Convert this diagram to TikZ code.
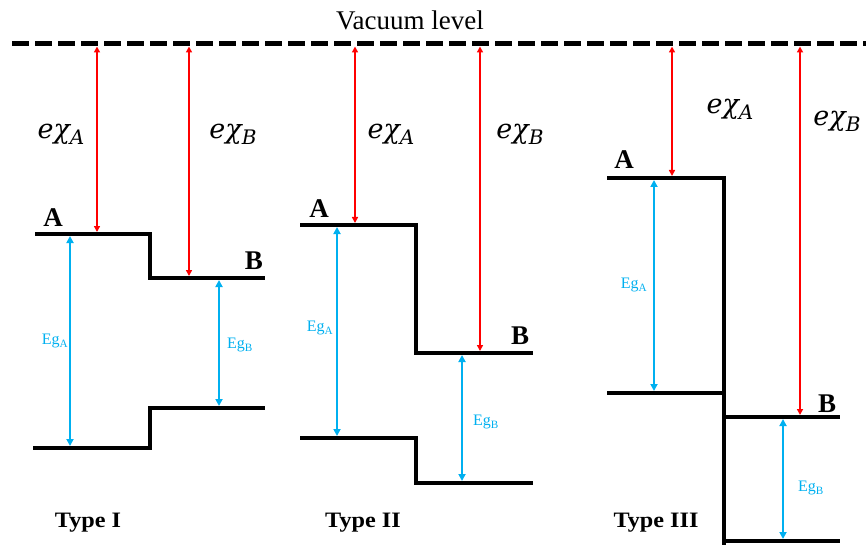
\documentclass[tikz,border=0pt]{standalone}
\usepackage{fontspec}
\setmainfont{Liberation Serif}
\newfontfamily\chifont{DejaVu Serif}
\usetikzlibrary{arrows.meta}
\definecolor{egblue}{HTML}{00B0F0}
\newcommand{\echi}[1]{{\chifont\itshape e\char"03C7\raisebox{-0.22em}{\fontsize{20}{22}\selectfont #1}}}
\begin{document}
\begin{tikzpicture}[x=1pt,y=-1pt,
 band/.style={line width=3.5pt, line cap=butt, line join=miter},
 vac/.style={line width=5pt, dash pattern=on 17pt off 6pt},
 chi/.style={draw=red, line width=1.8pt, {Triangle[length=6pt,width=6pt]}-{Triangle[length=6pt,width=6pt]}},
 gap/.style={draw=egblue, line width=2.2pt, {Triangle[length=7pt,width=7pt]}-{Triangle[length=7pt,width=7pt]}},
 lbl/.style={font=\fontsize{27}{30}\selectfont\bfseries, inner sep=0pt},
 egl/.style={text=egblue, font=\fontsize{16}{18}\selectfont, inner sep=0pt},
 chil/.style={font=\fontsize{27}{30}\selectfont, inner sep=0pt},
 typel/.style={font=\fontsize{22}{24}\selectfont\bfseries, inner sep=0pt, xscale=1.1}]
\useasboundingbox (0,0) rectangle (866,545);
% vacuum level
\coordinate (vacL) at (12,44);
\coordinate (vacR) at (866,44);
\draw[vac] (vacL) -- (vacR);
\node[font=\fontsize{27}{30}\selectfont, inner sep=0pt] (vactxt) at (410,20) {Vacuum level};
% ---------- Type I ----------
\draw[band] (35,234) -- (150,234) -- (150,278) -- (265,278);
\draw[band] (33,448) -- (150,448) -- (150,408) -- (265,408);
\coordinate (t1vA) at (97,46.5);  \coordinate (t1cA) at (97,232);
\coordinate (t1vB) at (189,46.5); \coordinate (t1cB) at (189,276);
\coordinate (t1gAt) at (70,236);  \coordinate (t1gAb) at (70,446);
\coordinate (t1gBt) at (219,280); \coordinate (t1gBb) at (219,406);
\draw[chi] (t1vA) -- (t1cA);
\draw[chi] (t1vB) -- (t1cB);
\draw[gap] (t1gAt) -- (t1gAb);
\draw[gap] (t1gBt) -- (t1gBb);
\node[lbl] (t1A) at (53,218) {A};
\node[lbl] (t1B) at (254,261) {B};
\node[egl] (t1EgA) at (55,341) {Eg\textsubscript{A}};
\node[egl] (t1EgB) at (240,345) {Eg\textsubscript{B}};
\node[chil] (t1xA) at (61,134) {\echi{A}};
\node[chil] (t1xB) at (233,134) {\echi{B}};
\node[typel] (t1) at (88,523) {Type I};
% ---------- Type II ----------
\draw[band] (300,225) -- (416,225) -- (416,353) -- (533,353);
\draw[band] (300,438) -- (416,438) -- (416,483) -- (533,483);
\coordinate (t2vA) at (355,46.5); \coordinate (t2cA) at (355,223);
\coordinate (t2vB) at (480,46.5); \coordinate (t2cB) at (480,351);
\coordinate (t2gAt) at (337,227); \coordinate (t2gAb) at (337,436);
\coordinate (t2gBt) at (462,355); \coordinate (t2gBb) at (462,481);
\draw[chi] (t2vA) -- (t2cA);
\draw[chi] (t2vB) -- (t2cB);
\draw[gap] (t2gAt) -- (t2gAb);
\draw[gap] (t2gBt) -- (t2gBb);
\node[lbl] (t2A) at (319,209) {A};
\node[lbl] (t2B) at (520,336) {B};
\node[egl] (t2EgA) at (320,328) {Eg\textsubscript{A}};
\node[egl] (t2EgB) at (486,422) {Eg\textsubscript{B}};
\node[chil] (t2xA) at (391,134) {\echi{A}};
\node[chil] (t2xB) at (520,134) {\echi{B}};
\node[typel] (t2) at (363,523) {Type II};
% ---------- Type III ----------
\draw[band] (607,178) -- (724,178) -- (724,547);
\draw[band] (607,393) -- (724,393);
\draw[band] (724,417) -- (840,417);
\draw[band] (724,541) -- (840,541);
\coordinate (t3vA) at (672,46.5); \coordinate (t3cA) at (672,176);
\coordinate (t3vB) at (800,46.5); \coordinate (t3cB) at (800,415);
\coordinate (t3gAt) at (654,180); \coordinate (t3gAb) at (654,391);
\coordinate (t3gBt) at (783,419); \coordinate (t3gBb) at (783,539);
\draw[chi] (t3vA) -- (t3cA);
\draw[chi] (t3vB) -- (t3cB);
\draw[gap] (t3gAt) -- (t3gAb);
\draw[gap] (t3gBt) -- (t3gBb);
\node[lbl] (t3A) at (624,160) {A};
\node[lbl] (t3B) at (827,404) {B};
\node[egl] (t3EgA) at (634,285) {Eg\textsubscript{A}};
\node[egl] (t3EgB) at (811,488) {Eg\textsubscript{B}};
\node[chil] (t3xA) at (730,109) {\echi{A}};
\node[chil] (t3xB) at (837,121) {\echi{B}};
\node[typel] (t3) at (656,523) {Type III};
\end{tikzpicture}
\end{document}
